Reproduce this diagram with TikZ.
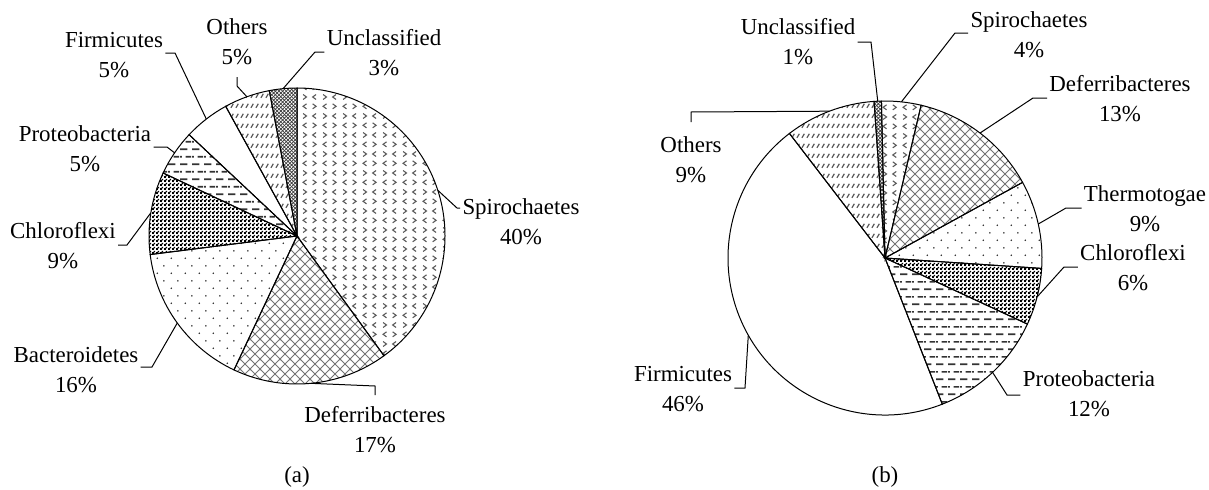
\documentclass[tikz,border=0pt]{standalone}
\usepackage{fontspec}
\setmainfont{Liberation Serif}
\usetikzlibrary{patterns,calc}

% fill patterns of the slices
\pgfdeclarepatternformonly{divot}{\pgfqpoint{0pt}{0pt}}{\pgfqpoint{10pt}{9.4pt}}{\pgfqpoint{10pt}{9.4pt}}{%
  \pgfsetlinewidth{0.55pt}%
  \pgfpathmoveto{\pgfqpoint{3.4pt}{3.6pt}}\pgfpathlineto{\pgfqpoint{1.6pt}{2.35pt}}\pgfpathlineto{\pgfqpoint{3.4pt}{1.1pt}}%
  \pgfpathmoveto{\pgfqpoint{6.6pt}{3.6pt}}\pgfpathlineto{\pgfqpoint{8.4pt}{2.35pt}}\pgfpathlineto{\pgfqpoint{6.6pt}{1.1pt}}%
  \pgfpathmoveto{\pgfqpoint{1.6pt}{8.3pt}}\pgfpathlineto{\pgfqpoint{3.4pt}{7.05pt}}\pgfpathlineto{\pgfqpoint{1.6pt}{5.8pt}}%
  \pgfpathmoveto{\pgfqpoint{8.4pt}{8.3pt}}\pgfpathlineto{\pgfqpoint{6.6pt}{7.05pt}}\pgfpathlineto{\pgfqpoint{8.4pt}{5.8pt}}%
  \pgfusepath{stroke}}
\pgfdeclarepatternformonly{diagcross}{\pgfqpoint{-0.5pt}{-0.5pt}}{\pgfqpoint{5.5pt}{5.5pt}}{\pgfqpoint{5pt}{5pt}}{%
  \pgfsetlinewidth{0.5pt}%
  \pgfpathmoveto{\pgfqpoint{-0.5pt}{-0.5pt}}\pgfpathlineto{\pgfqpoint{5.5pt}{5.5pt}}%
  \pgfpathmoveto{\pgfqpoint{-0.5pt}{5.5pt}}\pgfpathlineto{\pgfqpoint{5.5pt}{-0.5pt}}%
  \pgfusepath{stroke}}
\pgfdeclarepatternformonly{sparsedots}{\pgfqpoint{0pt}{0pt}}{\pgfqpoint{7pt}{7.7pt}}{\pgfqpoint{7pt}{7.7pt}}{%
  \pgfpathcircle{\pgfqpoint{1.75pt}{1.9pt}}{0.45pt}%
  \pgfpathcircle{\pgfqpoint{5.25pt}{5.75pt}}{0.45pt}%
  \pgfusepath{fill}}
\pgfdeclarepatternformonly{checker}{\pgfqpoint{0pt}{0pt}}{\pgfqpoint{2pt}{2pt}}{\pgfqpoint{2pt}{2pt}}{%
  \pgfpathrectangle{\pgfqpoint{0pt}{0pt}}{\pgfqpoint{1.15pt}{1.15pt}}%
  \pgfpathrectangle{\pgfqpoint{1pt}{1pt}}{\pgfqpoint{1pt}{1pt}}%
  \pgfusepath{fill}}
\pgfdeclarepatternformonly{hdash}{\pgfqpoint{0pt}{0pt}}{\pgfqpoint{6pt}{7.7pt}}{\pgfqpoint{6pt}{7.7pt}}{%
  \pgfpathrectangle{\pgfqpoint{0pt}{1.5pt}}{\pgfqpoint{4pt}{0.85pt}}%
  \pgfpathrectangle{\pgfqpoint{3pt}{5.35pt}}{\pgfqpoint{3pt}{0.85pt}}%
  \pgfpathrectangle{\pgfqpoint{0pt}{5.35pt}}{\pgfqpoint{1pt}{0.85pt}}%
  \pgfusepath{fill}}
\pgfdeclarepatternformonly{diagdash}{\pgfqpoint{0pt}{0pt}}{\pgfqpoint{2.3pt}{5pt}}{\pgfqpoint{2.3pt}{5pt}}{%
  \pgfsetlinewidth{0.65pt}%
  \pgfpathmoveto{\pgfqpoint{0.5pt}{1.2pt}}\pgfpathlineto{\pgfqpoint{1.8pt}{3.4pt}}%
  \pgfusepath{stroke}}
\pgfdeclarepatternformonly{smallcross}{\pgfqpoint{-0.2pt}{-0.2pt}}{\pgfqpoint{2pt}{2pt}}{\pgfqpoint{1.8pt}{1.8pt}}{%
  \pgfsetlinewidth{0.35pt}%
  \pgfpathmoveto{\pgfqpoint{-0.2pt}{-0.2pt}}\pgfpathlineto{\pgfqpoint{2pt}{2pt}}%
  \pgfpathmoveto{\pgfqpoint{-0.2pt}{2pt}}\pgfpathlineto{\pgfqpoint{2pt}{-0.2pt}}%
  \pgfusepath{stroke}}

\tikzset{
  slice/.style={draw=black, line width=0.5pt},
  leader/.style={draw=black, line width=0.5pt},
  lbl/.style={align=center, inner sep=1pt, font=\fontsize{11.45pt}{15pt}\selectfont},
}

\begin{document}
\begin{tikzpicture}[x=0.5pt, y=0.5pt]
\useasboundingbox (0,0) rectangle (1209,489);
% Define centres and radii of the two pies
\coordinate (ca) at (297,253);
\coordinate (cb) at (885,231);
\def\ra{148}
\def\rb{157}
% Draw the slices of pie (a)
\foreach \a/\b/\pat/\col in {90/-54/divot/black!65, -54/-115.2/diagcross/black!55,
    -115.2/-172.8/sparsedots/black!85, -172.8/-205.2/checker/black, -205.2/-223.2/hdash/black!80,
    -223.2/-241.2/sparsedots/white, -241.2/-259.2/diagdash/black!65, -259.2/-270/smallcross/black!75}
  \draw[slice, pattern=\pat, pattern color=\col] (ca) -- ++(\a:\ra) arc[start angle=\a, end angle=\b, radius=\ra] -- cycle;
% Draw the slices of pie (b)
\foreach \a/\b/\pat/\col in {94/91.3/smallcross/black!75, 91.3/76.7/divot/black!65,
    76.7/28.8/diagcross/black!55, 28.8/-3.8/sparsedots/black!85, -3.8/-24.9/checker/black,
    -24.9/-68.6/hdash/black!80, -68.6/-232.5/sparsedots/white, -232.5/-266/diagdash/black!65}
  \draw[slice, pattern=\pat, pattern color=\col] (cb) -- ++(\a:\rb) arc[start angle=\a, end angle=\b, radius=\rb] -- cycle;
% Labels of pie (a)
\node[lbl] (lspiA) at (521,267) {Spirochaetes\\40\%};
\node[lbl] (ldefA) at (375,59) {Deferribacteres\\17\%};
\node[lbl] (lbacA) at (76,119) {Bacteroidetes\\16\%};
\node[lbl] (lchlA) at (63,243) {Chloroflexi\\9\%};
\node[lbl] (lproA) at (85,340) {Proteobacteria\\5\%};
\node[lbl] (lfirA) at (114,434) {Firmicutes\\5\%};
\node[lbl] (lothA) at (237,447) {Others\\5\%};
\node[lbl] (luncA) at (384,436) {Unclassified\\3\%};
% Labels of pie (b)
\node[lbl] (luncB) at (798,447) {Unclassified\\1\%};
\node[lbl] (lspiB) at (1029,454) {Spirochaetes\\4\%};
\node[lbl] (ldefB) at (1120,390) {Deferribacteres\\13\%};
\node[lbl] (ltheB) at (1145,280) {Thermotogae\\9\%};
\node[lbl] (lchlB) at (1133,221) {Chloroflexi\\6\%};
\node[lbl] (lproB) at (1089,95) {Proteobacteria\\12\%};
\node[lbl] (lfirB) at (683,100) {Firmicutes\\46\%};
\node[lbl] (lothB) at (691,329) {Others\\9\%};
% Captions
\node[lbl] (capA) at (297,12) {(a)};
\node[lbl] (capB) at (885,12) {(b)};
% Leader starts on the rim of pie (a)
\coordinate (pspiA) at ($(ca)+(18:\ra)$);
\coordinate (pdefA) at ($(ca)+(-84.6:\ra)$);
\coordinate (pbacA) at ($(ca)+(-144:\ra)$);
\coordinate (pchlA) at ($(ca)+(171:\ra)$);
\coordinate (pproA) at ($(ca)+(145.8:\ra)$);
\coordinate (pfirA) at ($(ca)+(127.8:\ra)$);
\coordinate (pothA) at ($(ca)+(109.8:\ra)$);
\coordinate (puncA) at ($(ca)+(95.4:\ra)$);
% Leader bends of pie (a)
\coordinate (bspiA) at (457,281);
\coordinate (bdefA) at (375,103);
\coordinate (bbacA) at (152,122);
\coordinate (bchlA) at (127,244);
\coordinate (bproA) at (167,342);
\coordinate (bfirA) at (175,436);
\coordinate (bothA) at (237,403);
\coordinate (buncA) at (315,437);
% Leader starts on the rim of pie (b)
\coordinate (puncB) at ($(cb)+(92.65:\rb)$);
\coordinate (pspiB) at ($(cb)+(84:\rb)$);
\coordinate (pdefB) at ($(cb)+(52.75:\rb)$);
\coordinate (ptheB) at ($(cb)+(12.5:\rb)$);
\coordinate (pchlB) at ($(cb)+(-14.35:\rb)$);
\coordinate (pproB) at ($(cb)+(-46.75:\rb)$);
\coordinate (pfirB) at ($(cb)+(-150.55:\rb)$);
\coordinate (pothB) at ($(cb)+(110.75:\rb)$);
% Leader bends of pie (b)
\coordinate (buncB) at (871,447);
\coordinate (bspiB) at (955,456);
\coordinate (bdefB) at (1033,391);
\coordinate (btheB) at (1066,281);
\coordinate (bchlB) at (1064,222);
\coordinate (bproB) at (1007,94);
\coordinate (bfirB) at (745,101);
\coordinate (bothB) at (691,377);
% Draw the leaders of pie (a)
\draw[leader] (pspiA) -- (bspiA) -- (bspiA -| lspiA.west);
\draw[leader] (pdefA) -- (bdefA) -- ++(0,-9);
\draw[leader] (pbacA) -- (bbacA) -- (bbacA -| lbacA.east);
\draw[leader] (pchlA) -- (bchlA) -- (bchlA -| lchlA.east);
\draw[leader] (pproA) -- (bproA) -- (bproA -| lproA.east);
\draw[leader] (pfirA) -- (bfirA) -- (bfirA -| lfirA.east);
\draw[leader] (pothA) -- (bothA) -- ++(0,9);
\draw[leader] (puncA) -- (buncA) -- (buncA -| luncA.west);
% Draw the leaders of pie (b)
\draw[leader] (puncB) -- (buncB) -- (buncB -| luncB.east);
\draw[leader] (pspiB) -- (bspiB) -- (bspiB -| lspiB.west);
\draw[leader] (pdefB) -- (bdefB) -- (bdefB -| ldefB.west);
\draw[leader] (ptheB) -- (btheB) -- (btheB -| ltheB.west);
\draw[leader] (pchlB) -- (bchlB) -- (bchlB -| lchlB.west);
\draw[leader] (pproB) -- (bproB) -- (bproB -| lproB.west);
\draw[leader] (pfirB) -- (bfirB) -- (bfirB -| lfirB.east);
\draw[leader] (pothB) -- (bothB) -- ++(0,-10);
\end{tikzpicture}
\end{document}
